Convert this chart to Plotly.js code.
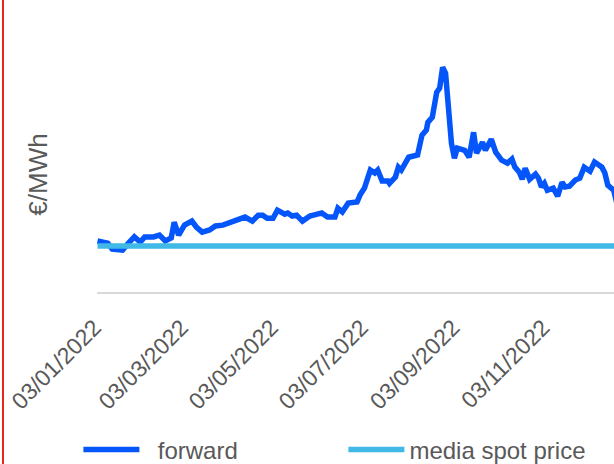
<!DOCTYPE html>
<html>
<head>
<meta charset="utf-8">
<script src="https://cdn.plot.ly/plotly-3.0.1.min.js"></script>
<style>
  html, body { margin: 0; padding: 0; background: #fff; overflow: hidden; }
  #wrap { position: relative; width: 614px; height: 464px; overflow: hidden; }
  #chart { width: 614px; height: 480px; }
  #redline { position: absolute; left: 2px; top: 0; width: 2px; height: 464px; background: #e8261c; }
</style>
</head>
<body>
<div id="wrap">
  <div id="chart"></div>
  <div id="redline"></div>
</div>
<script>
const dates = [
  "2022-01-03","2022-01-10","2022-01-13","2022-01-20","2022-01-24","2022-01-28",
  "2022-02-01","2022-02-04","2022-02-10","2022-02-14","2022-02-18","2022-02-22","2022-02-24","2022-02-27",
  "2022-03-03","2022-03-08","2022-03-11","2022-03-15","2022-03-20","2022-03-24","2022-03-29",
  "2022-04-03","2022-04-08","2022-04-13","2022-04-18","2022-04-22","2022-04-25","2022-04-28",
  "2022-05-02","2022-05-05","2022-05-10","2022-05-12","2022-05-15","2022-05-18","2022-05-22","2022-05-27",
  "2022-06-01","2022-06-04","2022-06-08","2022-06-13","2022-06-15","2022-06-18","2022-06-22","2022-06-28","2022-06-30",
  "2022-07-03","2022-07-07","2022-07-10","2022-07-12","2022-07-15","2022-07-19","2022-07-20","2022-07-24","2022-07-26","2022-07-28",
  "2022-08-02","2022-08-08","2022-08-11","2022-08-14","2022-08-15","2022-08-18","2022-08-21","2022-08-23","2022-08-25","2022-08-27","2022-08-29","2022-08-31",
  "2022-09-02","2022-09-04","2022-09-09","2022-09-12","2022-09-15","2022-09-17","2022-09-21","2022-09-23","2022-09-27","2022-09-30",
  "2022-10-04","2022-10-08","2022-10-11","2022-10-13","2022-10-16","2022-10-18","2022-10-20","2022-10-23","2022-10-27","2022-10-29","2022-10-31",
  "2022-11-02","2022-11-04","2022-11-08","2022-11-11","2022-11-14","2022-11-16","2022-11-19","2022-11-23","2022-11-26","2022-11-29",
  "2022-12-03","2022-12-06","2022-12-11","2022-12-13","2022-12-15","2022-12-19","2022-12-22"
];
const forward = [
  139,133,117,114,133,150,
  136,150,150,155,139,147,190,155,
  182,193,177,163,169,180,182,
  190,196,204,193,209,209,201,
  201,223,212,215,207,209,193,207,
  212,215,204,204,228,218,242,245,264,
  283,332,324,332,302,302,296,313,340,332,
  367,373,427,441,462,476,544,555,612,596,509,405,
  364,392,386,367,435,378,408,386,416,381,
  359,351,362,340,326,307,337,307,321,310,286,
  296,277,283,261,299,286,288,305,310,340,
  329,354,340,324,291,277,228
];
const spotPrice = 125;
const tickDates = ["2022-01-03","2022-03-03","2022-05-03","2022-07-03","2022-09-03","2022-11-03"];
const tickLabels = ["03/01/2022","03/03/2022","03/05/2022","03/07/2022","03/09/2022","03/11/2022"];
const xRange = ["2022-01-02 16:00","2022-12-19 05:00"];
const yRange = [0, 640];
const seriesNames = ["\u00a0\u00a0forward", "media spot price"];
const yTitle = "\u00a0€/MWh";

const FONT = "Liberation Sans, Arial, sans-serif";
const GREY = "#595959";

const traces = [
  {
    type: "scatter", mode: "lines", name: seriesNames[0],
    x: dates, y: forward,
    line: { color: "#0556fa", width: 5.5 }
  },
  {
    type: "scatter", mode: "lines", name: seriesNames[1],
    x: [dates[0], dates[dates.length - 1]], y: [spotPrice, spotPrice],
    line: { color: "#41b9e6", width: 5.5 }
  }
];

const layout = {
  width: 614, height: 480,
  margin: { l: 97, r: 0, t: 57, b: 188 },
  paper_bgcolor: "#fff", plot_bgcolor: "#fff",
  font: { family: FONT, color: GREY },
  showlegend: true,
  legend: {
    orientation: "h", x: -0.036, xanchor: "left", y: -0.672, yanchor: "middle",
    font: { family: FONT, size: 24, color: GREY },
    itemwidth: 56, entrywidth: 194, traceorder: "normal"
  },
  xaxis: {
    type: "date", range: xRange, automargin: false,
    tickmode: "array", tickvals: tickDates, ticktext: tickLabels,
    tickangle: -45, tickfont: { family: FONT, size: 23, color: GREY },
    ticks: "", showgrid: false, zeroline: false,
    showline: true, linecolor: "#d9d9d9", linewidth: 2,
    ticklabelstandoff: 11, ticklabelshift: -3
  },
  yaxis: {
    range: yRange, showticklabels: false, ticks: "", showgrid: false,
    zeroline: false, showline: false, automargin: false,
    title: { text: yTitle, font: { family: FONT, size: 26, color: GREY }, standoff: 40 }
  }
};

Plotly.newPlot("chart", traces, layout, { displayModeBar: false, staticPlot: true });
</script>
</body>
</html>
